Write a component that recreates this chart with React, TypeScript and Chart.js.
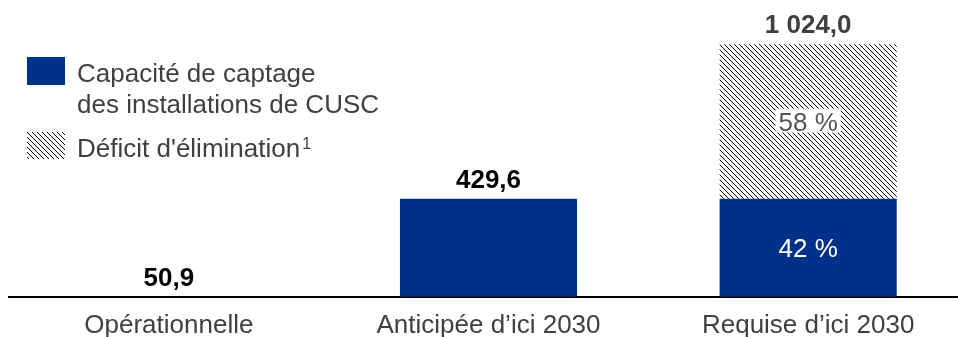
import React, { useEffect, useRef } from "react";
import { Chart, registerables } from "chart.js";

Chart.register(...registerables);

const categories = ["Opérationnelle", "Anticipée d’ici 2030", "Requise d’ici 2030"];
const captureCapacity = [0, 429.6, 429.6];
const eliminationDeficit = [0, 0, 678];
const totalLabels = ["50,9", "429,6", "1 024,0"];
const captureShareLabels = ["", "", "42 %"];
const deficitShareLabels = ["", "", "58 %"];
const legendCapture = ["Capacité de captage", "des installations de CUSC"];
const legendDeficit = "Déficit d'élimination";
const legendDeficitNote = "1";

const BLUE = "#00318a";
const FONT = '"Liberation Sans", Arial, Helvetica, sans-serif';

function makePattern(): CanvasPattern | string {
  const n = 5;
  const c = document.createElement("canvas");
  c.width = n;
  c.height = n;
  const g = c.getContext("2d");
  if (!g) return "#888";
  g.fillStyle = "#ffffff";
  g.fillRect(0, 0, n, n);
  g.fillStyle = "#000000";
  for (let i = 0; i < n; i++) g.fillRect(i, i, 1, 1);
  const p = g.createPattern(c, "repeat");
  return p || "#888";
}

export default function App() {
  const ref = useRef<HTMLCanvasElement>(null);

  useEffect(() => {
    const canvas = ref.current;
    if (!canvas) return;
    const hatch = makePattern();

    const overlay = {
      id: "overlay",
      afterDraw(chart: any) {
        const ctx = chart.ctx as CanvasRenderingContext2D;
        const m0 = chart.getDatasetMeta(0);
        const m1 = chart.getDatasetMeta(1);
        ctx.save();
        ctx.textAlign = "center";
        ctx.textBaseline = "alphabetic";
        ctx.font = `bold 26px ${FONT}`;
        totalLabels.forEach((lab, i) => {
          const el = m1.data[i];
          const top = Math.min(el.y, m0.data[i].y);
          ctx.fillStyle = i === 2 ? "#404040" : "#000000";
          ctx.fillText(lab, el.x, top - 11);
        });
        ctx.font = `26px ${FONT}`;
        captureShareLabels.forEach((lab, i) => {
          if (!lab) return;
          const el = m0.data[i];
          const cy = (el.y + el.base) / 2;
          ctx.fillStyle = "#ffffff";
          ctx.fillText(lab, el.x, cy + 9);
        });
        deficitShareLabels.forEach((lab, i) => {
          if (!lab) return;
          const el = m1.data[i];
          const cy = (el.y + el.base) / 2;
          const w = ctx.measureText(lab).width + 6;
          ctx.fillStyle = "#ffffff";
          ctx.fillRect(el.x - w / 2, cy - 13, w, 24);
          ctx.fillStyle = "#555555";
          ctx.fillText(lab, el.x, cy + 9);
        });
        ctx.textAlign = "left";
        ctx.fillStyle = BLUE;
        ctx.fillRect(27, 57, 38, 28);
        ctx.fillStyle = hatch as any;
        ctx.fillRect(27, 132, 38, 27);
        ctx.fillStyle = "#404040";
        ctx.font = `26px ${FONT}`;
        ctx.fillText(legendCapture[0], 77, 82);
        ctx.fillText(legendCapture[1], 77, 113);
        ctx.fillText(legendDeficit, 77, 157);
        const w = ctx.measureText(legendDeficit).width;
        ctx.font = `16px ${FONT}`;
        ctx.fillText(legendDeficitNote, 77 + w + 2, 149);
        ctx.restore();
      },
    };

    const chart = new Chart(canvas, {
      type: "bar",
      data: {
        labels: categories,
        datasets: [
          {
            label: legendCapture.join(" "),
            data: captureCapacity,
            backgroundColor: BLUE,
            borderWidth: 0,
            categoryPercentage: 1,
            barPercentage: 0.554,
          },
          {
            label: legendDeficit,
            data: eliminationDeficit,
            backgroundColor: hatch as any,
            borderWidth: 0,
            categoryPercentage: 1,
            barPercentage: 0.554,
          },
        ],
      },
      options: {
        responsive: false,
        animation: false,
        devicePixelRatio: 1,
        layout: { padding: { left: 9, right: 0, top: 0, bottom: 0 } },
        plugins: {
          legend: { display: false },
          tooltip: { enabled: false },
        },
        scales: {
          x: {
            stacked: true,
            offset: true,
            grid: { display: false, drawTicks: false },
            border: { display: true, color: "#000000", width: 2 },
            ticks: {
              color: "#404040",
              font: { family: FONT, size: 26 },
              padding: 13,
              maxRotation: 0,
              autoSkip: false,
            },
          },
          y: {
            stacked: true,
            display: false,
            min: 0,
            max: 1302,
          },
        },
      },
      plugins: [overlay],
    });

    return () => chart.destroy();
  }, []);

  return (
    <div
      style={{
        position: "fixed",
        left: 0,
        top: 0,
        width: 958,
        height: 337,
        overflow: "hidden",
        background: "#ffffff",
      }}
    >
      <canvas ref={ref} width={968} height={354} style={{ display: "block", width: 968, height: 354 }} />
    </div>
  );
}
